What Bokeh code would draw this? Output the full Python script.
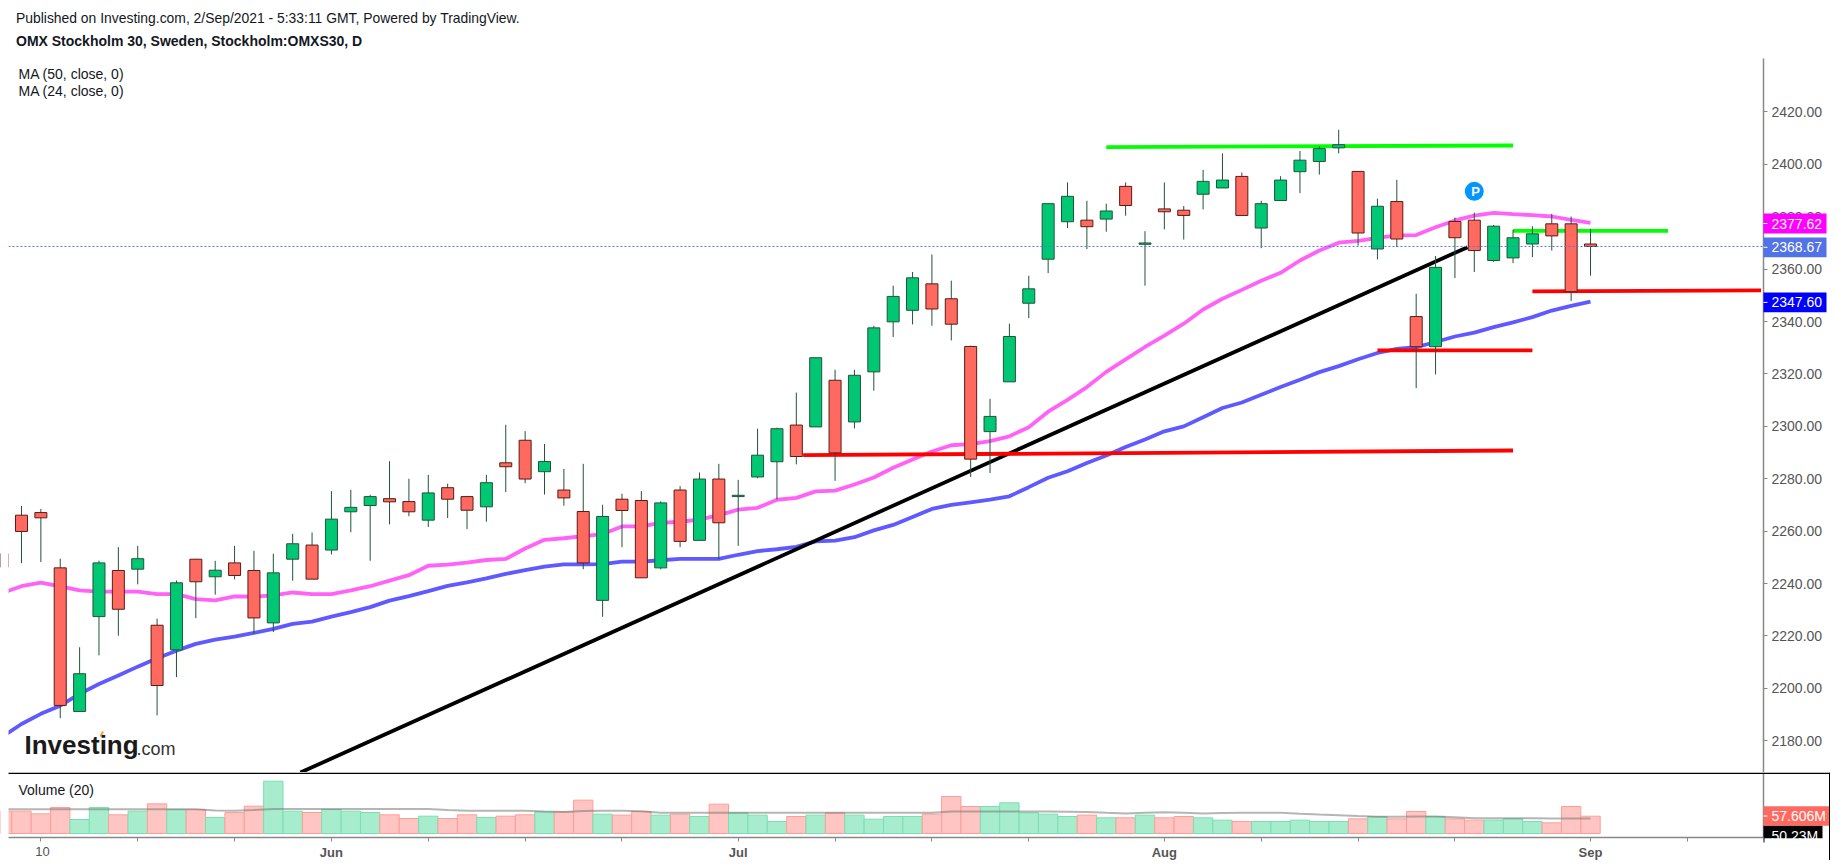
from bokeh.plotting import figure
from bokeh.layouts import column
from bokeh.models import Label, BoxAnnotation, FixedTicker, Range1d
from bokeh.embed import file_html
from bokeh.resources import INLINE

# ---------- data ----------
bar_index = list(range(-1, 82))
opens = [2251.4,2266.1,2267.1,2246.0,2191.2,2227.4,2245.0,2245.5,2224.1,2214.7,2249.3,2242.6,2247.9,2245.0,2225.0,2249.3,2254.7,2252.8,2267.4,2269.8,2272.4,2271.3,2264.2,2276.6,2273.2,2269.3,
2286.1,2294.7,2282.7,2275.7,2267.5,2233.6,2272.2,2271.7,2246.0,2275.7,2256.5,2279.9,2273.2,2280.7,2286.5,2300.5,2299.8,2317.6,2301.7,2320.8,2339.9,2344.3,2354.4,2348.7,2330.5,2298.0,2317.0,2347.0,2363.8,2378.1,2378.7,2379.1,2391.6,2369.5,2383.0,2382.5,2388.6,2391.0,2395.4,2375.7,2386.2,2397.2,2401.1,2406.3,2397.3,2367.7,2385.8,2341.9,2330.4,2378.2,2378.7,2363.3,2364.3,2369.6,2377.3,2377.3,2369.6]
closes = [2246.3,2259.9,2265.1,2193.5,2205.6,2247.9,2230.2,2249.5,2201.1,2240.3,2240.7,2245.1,2243.1,2226.9,2244.1,2255.2,2241.7,2264.6,2269.1,2273.2,2271.2,2267.4,2274.6,2272.2,2268.0,2278.5,
2284.6,2279.9,2286.6,2272.7,2247.9,2265.6,2267.9,2242.2,2270.8,2256.1,2279.9,2263.2,2273.7,2289.0,2299.1,2288.5,2326.2,2289.9,2319.5,2337.6,2349.6,2356.7,2344.8,2339.0,2287.5,2303.8,2334.3,2352.5,2385.0,2387.8,2376.2,2382.2,2384.3,2370.0,2381.9,2380.5,2393.5,2394.0,2380.5,2385.0,2394.0,2401.6,2406.0,2407.5,2373.8,2384.0,2371.5,2330.4,2360.7,2372.0,2367.1,2376.4,2372.0,2373.5,2372.7,2351.4,2368.67]
highs = [2251.4,2269.6,2268.5,2249.5,2215.7,2248.8,2253.9,2254.4,2226.6,2241.2,2249.3,2248.7,2254.4,2252.5,2251.4,2259.0,2259.5,2275.3,2275.8,2273.9,2286.7,2280.0,2281.5,2278.1,2273.5,2281.5,
2300.6,2298.2,2293.3,2283.8,2285.7,2270.1,2274.3,2275.3,2271.4,2277.2,2282.4,2285.7,2279.6,2299.1,2299.5,2312.9,2326.2,2321.6,2321.6,2338.4,2353.7,2358.9,2365.6,2355.6,2330.8,2310.5,2339.2,2357.5,2385.0,2393.1,2386.1,2385.0,2393.1,2374.5,2393.1,2384.1,2397.9,2404.2,2396.9,2386.1,2395.5,2405.1,2407.0,2413.2,2397.4,2386.9,2394.1,2350.6,2365.0,2379.7,2381.6,2376.9,2375.0,2376.4,2381.1,2380.1,2375.4]
lows = [2246.3,2247.8,2248.2,2188.6,2191.2,2212.6,2220.1,2239.7,2189.7,2204.3,2226.8,2235.8,2241.6,2220.8,2221.5,2241.1,2241.7,2251.1,2259.6,2248.7,2262.6,2265.7,2261.6,2265.0,2260.8,2263.6,
2274.9,2278.3,2274.0,2269.7,2245.5,2227.3,2253.9,2242.2,2245.4,2253.9,2256.5,2249.3,2254.4,2280.2,2272.1,2285.5,2299.8,2279.2,2299.2,2313.6,2334.1,2338.9,2338.4,2332.8,2280.7,2282.2,2317.0,2341.3,2358.5,2375.7,2367.7,2374.3,2380.4,2353.7,2375.2,2371.3,2382.8,2391.0,2380.5,2368.0,2386.2,2389.0,2396.1,2404.2,2369.0,2363.7,2368.4,2314.6,2319.8,2356.6,2358.9,2362.8,2362.3,2364.6,2367.1,2347.9,2357.5]
ma24 = [2236.4,2239.0,2240.4,2238.9,2237.4,2236.9,2236.9,2236.9,2236.0,2236.0,2234.1,2233.6,2235.1,2235.0,2235.5,2236.6,2236.0,2236.0,2237.4,2239.0,2241.1,2243.2,2246.8,2247.2,2248.0,2249.0,2249.4,2253.4,2256.7,2257.3,2258.1,2258.9,2261.8,2261.8,2263.2,2263.6,2264.4,2266.1,2268.2,2268.9,2272.0,2272.7,2275.2,2275.5,2277.8,2280.5,2284.2,2287.4,2290.4,2292.8,2293.2,2294.4,2296.2,2299.7,2305.6,2310.1,2315.0,2320.8,2325.6,2330.3,2334.6,2339.2,2344.6,2348.7,2352.1,2355.6,2358.6,2363.3,2367.1,2370.1,2370.8,2371.9,2372.9,2373.0,2376.0,2378.6,2380.4,2381.5,2381.0,2380.6,2380.1,2378.8,2377.62]
ma50 = [2181.5,2186.4,2190.3,2193.4,2197.9,2201.7,2204.9,2208.3,2211.5,2214.4,2217.0,2218.6,2219.8,2221.2,2222.7,2224.6,2225.5,2227.4,2229.1,2231.0,2233.5,2235.2,2237.1,2239.1,2240.5,2242.0,2243.7,2245.1,2246.5,2247.3,2247.3,2247.4,2248.4,2248.4,2248.9,2249.4,2249.4,2249.4,2251.0,2252.4,2253.1,2254.0,2256.1,2256.4,2257.7,2260.3,2262.4,2265.4,2268.5,2270.0,2271.0,2272.0,2273.3,2276.8,2280.4,2282.9,2286.0,2288.9,2292.1,2295.0,2298.1,2300.0,2303.5,2307.0,2309.1,2312.1,2315.0,2317.8,2320.7,2323.0,2325.6,2328.0,2329.6,2330.2,2332.2,2334.3,2335.8,2337.9,2339.7,2341.7,2344.2,2346.0,2347.60]
volumes = [74.4,74.4,65.5,86.6,46.6,86.6,62.2,74.4,98.8,79.9,79.9,53.3,69.9,91.0,174.3,74.4,69.9,79.9,74.4,69.9,62.2,49.9,57.7,49.9,62.2,53.3,57.7,62.2,72.2,72.2,111.0,64.4,61.1,73.3,61.1,64.4,56.6,97.7,68.8,61.1,40.0,56.6,61.1,68.8,61.1,47.7,56.6,56.6,64.4,123.2,89.9,89.9,102.1,68.8,64.4,56.6,61.1,52.2,52.2,61.1,52.2,56.6,52.2,44.4,40,40,40,44.4,40,40,48.8,56.6,48.8,73.3,56.6,48.8,44.4,44.4,48.8,40,35.5,89.9,57.606]
volume_ma = [81,81,81,81,81,81,81,81,81,81,80.5,77,75.5,78,81.5,81.5,81.5,81.5,81.5,81.5,81.5,81.5,81.5,78,76,76,76,76,73,72,75,75.5,75.5,74,69,69,69,69,69,69,69,69,69,69,69,69,69,69,69,73,73,73,73,73,73,72.5,72,69,66.6,69,71,69,67,68,69,69,69,66,63.3,61,58,55.5,56,56.6,56.6,54,51,51,50.5,50.5,50.3,50.3,50.23]

price_ticks = [2180 + 20 * i for i in range(13)]
time_ticks = [1, 6, 11, 16, 21, 26, 31, 37, 42, 47, 52, 59, 64, 69, 74, 81, 86]
time_labels = {16: "Jun", 37: "Jul", 59: "Aug", 81: "Sep"}

black_x, black_y = [14.4, 74.65], [2167.9, 2368.4]
green1_x, green1_y = [56.0, 77.0], [2406.6, 2407.2]
green2_x, green2_y = [77.0, 85.0], [2374.65, 2374.65]
red1_x, red1_y = [40.35, 77.0], [2289.0, 2290.8]
red2_x, red2_y = [70.0, 78.0], [2329.0, 2329.0]
red3_x, red3_y = [78.0, 89.8], [2351.5, 2351.9]
pin_x, pin_y = 75, 2389.7

# ---------- page geometry: each frame fills its whole canvas; the axes sit inside at fixed locations ----------
FONT = "Liberation Sans"
W = 1830
LEFT, FRAME_R = 8, 1763
TOP, SEP, BASE, BOTTOM = 58, 772, 837, 860
X_LEFT, X_RIGHT = -0.671, 89.93
P_BOTTOM, P_TOP = 2167.9, 2440.4
LW = 3.8
VOL_PER_PX = 3.33
VOL_ZERO_Y = 833

def xd(px):
    return X_LEFT + (px - LEFT) * (X_RIGHT - X_LEFT) / (FRAME_R - LEFT)
def pd(py):
    return P_TOP - (py - TOP) * (P_TOP - P_BOTTOM) / (SEP - TOP)
def vd(py):
    return (VOL_ZERO_Y - py) * VOL_PER_PX

UP, DOWN = "#00C774", "#FF6A60"
UP_B, DOWN_B = "#225437", "#5B1A13"
GREY = "#888888"
x_range = Range1d(xd(0), xd(W))

def lab(fig, text, px, py, size="14px", style="normal", color="#131722", align="left"):
    fig.add_layout(Label(x=px, y=py, x_units="canvas", y_units="canvas", text=text,
                         text_font=FONT, text_font_size=size, text_font_style=style,
                         text_color=color, text_align=align, text_baseline="middle"))

def chip(fig, x0, x1, y0, y1, color):
    fig.add_layout(BoxAnnotation(left=x0, right=x1, top=y0, bottom=y1,
                                 left_units="canvas", right_units="canvas",
                                 top_units="canvas", bottom_units="canvas",
                                 fill_color=color, fill_alpha=1, line_color=None, line_alpha=0,
                                 level="annotation"))

# ---------- price pane ----------
p = figure(width=W, height=SEP, x_range=x_range, y_range=(pd(SEP), pd(0)),
           output_backend="svg", toolbar_location=None,
           x_axis_location=None, y_axis_location="right",
           min_border_left=0, min_border_right=0, min_border_top=0, min_border_bottom=0)
p.grid.visible = False
p.outline_line_color = None
ya = p.yaxis[0]
ya.fixed_location = xd(FRAME_R)
ya.bounds = (pd(SEP), pd(TOP))
ya.ticker = FixedTicker(ticks=price_ticks)
ya.major_label_overrides = {t: f"{t}.00" for t in price_ticks}
ya.major_label_text_font = FONT
ya.major_label_text_font_size = "14px"
ya.major_label_text_color = "#555555"
ya.major_tick_line_color = GREY
ya.major_tick_out = 4
ya.major_tick_in = 0
ya.minor_tick_line_color = None
ya.axis_line_color = GREY
ya.axis_line_width = 1.5
ya.major_label_standoff = 4

p.line(bar_index, ma50, line_color="#5F5AFF", line_width=LW)
p.line(bar_index, ma24, line_color="#FF62F7", line_width=LW)
p.line(black_x, black_y, line_color="#000000", line_width=LW)
p.line(red1_x, red1_y, line_color="#FF0000", line_width=LW)
p.line(red2_x, red2_y, line_color="#FF0000", line_width=LW)
p.line(red3_x, red3_y, line_color="#FF0000", line_width=LW)
p.line(green1_x, green1_y, line_color="#00FF00", line_width=LW)
p.line(green2_x, green2_y, line_color="#00FF00", line_width=LW)

up = [c >= o for o, c in zip(opens, closes)]
tops = [max(o, c) for o, c in zip(opens, closes)]
bots = [min(o, c) for o, c in zip(opens, closes)]
p.segment(bar_index, highs, bar_index, lows, line_color=UP_B, line_width=1)
p.vbar(x=bar_index, top=tops, bottom=bots, width=0.62,
       fill_color=[UP if u else DOWN for u in up],
       line_color=[UP_B if u else DOWN_B for u in up], line_width=1)

p.line([X_LEFT, X_RIGHT], [closes[-1], closes[-1]], line_color="#4F74F0", line_dash="2 2", line_width=1)
p.scatter([pin_x], [pin_y], size=19, marker="circle", fill_color="#0496FF", line_color=None)

chip(p, 0, LEFT, 0, SEP, "#FFFFFF")
lab(p, "P", 1475, 191, "13px", "bold", "#FFFFFF", "center")
lab(p, "Published on Investing.com, 2/Sep/2021 - 5:33:11 GMT, Powered by TradingView.", 15.5, 17.7, "13.9px")
lab(p, "OMX Stockholm 30, Sweden, Stockholm:OMXS30, D", 15.5, 40.7, "14px", "bold")
lab(p, "MA (50, close, 0)", 18, 73.5)
lab(p, "MA (24, close, 0)", 18, 90.5)

# logo
lab(p, "Investing", 24, 744.5, "26px", "bold", "#1A1A1A")
lab(p, ".com", 136, 748, "18px", "normal", "#333333")
p.segment([xd(100)], [pd(736)], [xd(102.5)], [pd(731)], line_color="#F9A11B", line_width=2)

# price chips on the scale
for y0, y1, col, txt in [(213, 233, "#FF00FF", "2377.62"),
                         (237, 256.7, "#5173E5", "2368.67"),
                         (292, 311.7, "#0000FF", "2347.60")]:
    chip(p, FRAME_R, 1826, y0, y1, col)
    chip(p, FRAME_R, 1767, (y0 + y1) / 2 - 0.5, (y0 + y1) / 2 + 0.5, "#FFFFFF")
    lab(p, txt, 1771, (y0 + y1) / 2, "14px", "normal", "#FFFFFF")

# ---------- volume pane ----------
v = figure(width=W, height=BOTTOM - SEP, x_range=x_range, y_range=(vd(BOTTOM), vd(SEP)),
           output_backend="svg", toolbar_location=None,
           y_axis_location="right",
           min_border_left=0, min_border_right=0, min_border_top=0, min_border_bottom=0)
v.grid.visible = False
v.outline_line_color = None
xa = v.xaxis[0]
xa.fixed_location = vd(BASE)
xa.bounds = (X_LEFT, X_RIGHT)
xa.ticker = FixedTicker(ticks=time_ticks)
xa.major_label_overrides = {t: time_labels.get(t, "") for t in time_ticks}
xa.major_label_text_font = FONT
xa.major_label_text_font_size = "13px"
xa.major_label_text_font_style = "bold"
xa.major_label_text_color = "#555555"
xa.major_tick_line_color = GREY
xa.major_tick_out = 4
xa.major_tick_in = 0
xa.minor_tick_line_color = None
xa.axis_line_color = GREY
xa.axis_line_width = 1.5
xa.major_label_standoff = 3
yb = v.yaxis[0]
yb.fixed_location = xd(FRAME_R)
yb.bounds = (vd(BASE), vd(SEP))
yb.ticker = FixedTicker(ticks=[])
yb.axis_line_color = GREY
yb.axis_line_width = 1.5
yb.major_tick_line_color = None
yb.minor_tick_line_color = None
yb.major_label_text_font_size = "0px"

v.vbar(x=bar_index, top=volumes, bottom=0, width=1.0,
       fill_color=["#A7EDCD" if u else "#FFC5C2" for u in up],
       line_color=["#78E0B0" if u else "#FF9E97" for u in up], line_width=1)
v.line(bar_index, volume_ma, line_color="#787878", line_alpha=0.55, line_width=2)

# canvas y of this pane starts at the separator
S = SEP
chip(v, 0, LEFT, 0, BASE - S - 1, "#FFFFFF")
lab(v, "Volume (20)", 18, 789 - S)
lab(v, "10", 42, 851 - S, "13px", "normal", "#555555", "center")
chip(v, FRAME_R, 1822, 825 - S, 842 - S, "#000000")
lab(v, "50.23M", 1771, 835 - S, "14px", "normal", "#FFFFFF")
chip(v, FRAME_R + 1, W, 837.7 - S, 844 - S, "#FFFFFF")
chip(v, FRAME_R, 1829, 805.7 - S, 825.3 - S, "#FF6A60")
chip(v, FRAME_R, 1767, 815 - S, 816 - S, "#FFFFFF")
lab(v, "57.606M", 1771, 815.5 - S, "14px", "normal", "#FFFFFF")
chip(v, LEFT, W, 0, 1.6, "#000000")
chip(v, 1828.5, W, 0, BOTTOM - S, "#000000")

layout = column(p, v, spacing=0)
open("out.html", "w").write(file_html(layout, INLINE))
